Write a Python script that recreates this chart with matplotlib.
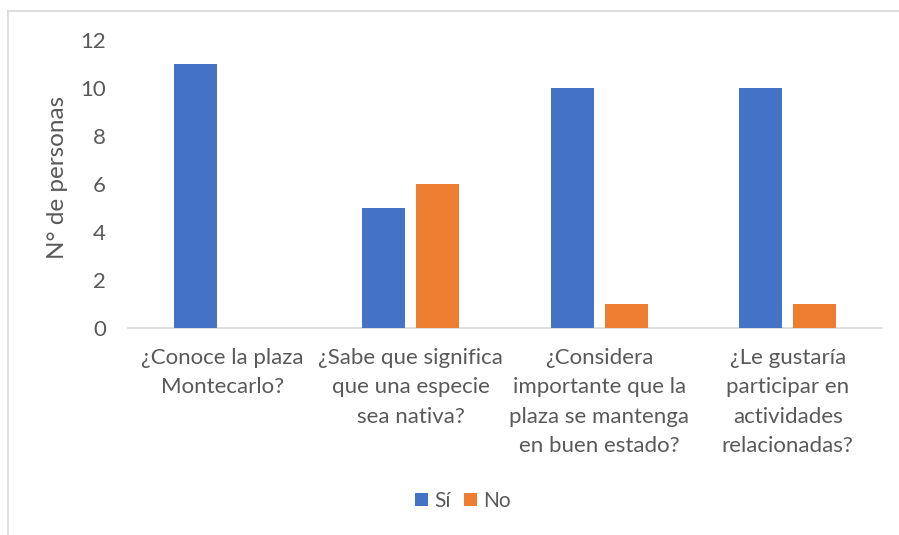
import matplotlib
matplotlib.use("Agg")
import matplotlib.pyplot as plt
from matplotlib.lines import Line2D
import numpy as np

categories = [
    "¿Conoce la plaza\nMontecarlo?",
    "¿Sabe que significa\nque una especie\nsea nativa?",
    "¿Considera\nimportante que la\nplaza se mantenga\nen buen estado?",
    "¿Le gustaría\nparticipar en\nactividades\nrelacionadas?",
]
si_values = [11, 5, 10, 10]
no_values = [0, 6, 1, 1]
series_names = ["Sí", "No"]
yticks = [0, 2, 4, 6, 8, 10, 12]

plt.rcParams['font.family'] = ['Lato', 'DejaVu Sans']
TXT = '#595959'
GRID = '#D9D9D9'

W, H = 899, 535
fig = plt.figure(figsize=(W / 100, H / 100), dpi=100)
ax = fig.add_axes([128 / W, (H - 328) / H, (882 - 128) / W, (328 - 40) / H])

x = np.arange(len(categories))
bw = 0.226
off = 0.143
ax.bar(x - off, si_values, bw, color='#4472C4', label=series_names[0], zorder=3)
ax.bar(x + off, no_values, bw, color='#ED7D31', label=series_names[1], zorder=3)

ax.set_xlim(-0.5, len(categories) - 0.5)
ax.set_ylim(0, 12)
ax.set_yticks(yticks)
ax.set_xticks(x)
ax.set_xticklabels(categories, linespacing=1.58)
for s in ['top', 'right', 'left']:
    ax.spines[s].set_visible(False)
ax.spines['bottom'].set_color(GRID)
ax.spines['bottom'].set_linewidth(1.2)
ax.tick_params(axis='both', length=0, colors=TXT, labelsize=16)
ax.tick_params(axis='y', pad=16)
ax.tick_params(axis='x', pad=14.5)
for lbl in ax.get_xticklabels():
    lbl.set_verticalalignment('top')

fig.text(57 / W, 1 - 177 / H, "N° de personas", rotation=90, ha='center', va='center',
         color=TXT, fontsize=17.5)

leg = fig.legend(loc='center', bbox_to_anchor=(463 / W, 1 - 501 / H), ncol=2, frameon=False,
                 fontsize=15, handlelength=0.62, handleheight=0.62, handletextpad=0.3,
                 columnspacing=0.65)
for t in leg.get_texts():
    t.set_color(TXT)

fig.add_artist(Line2D([8 / W, 1], [1 - 11 / H, 1 - 11 / H], color=GRID, lw=1.2, transform=fig.transFigure))
fig.add_artist(Line2D([8 / W, 8 / W], [0, 1 - 11 / H], color=GRID, lw=1.2, transform=fig.transFigure))

fig.savefig("out.png", dpi=100)
